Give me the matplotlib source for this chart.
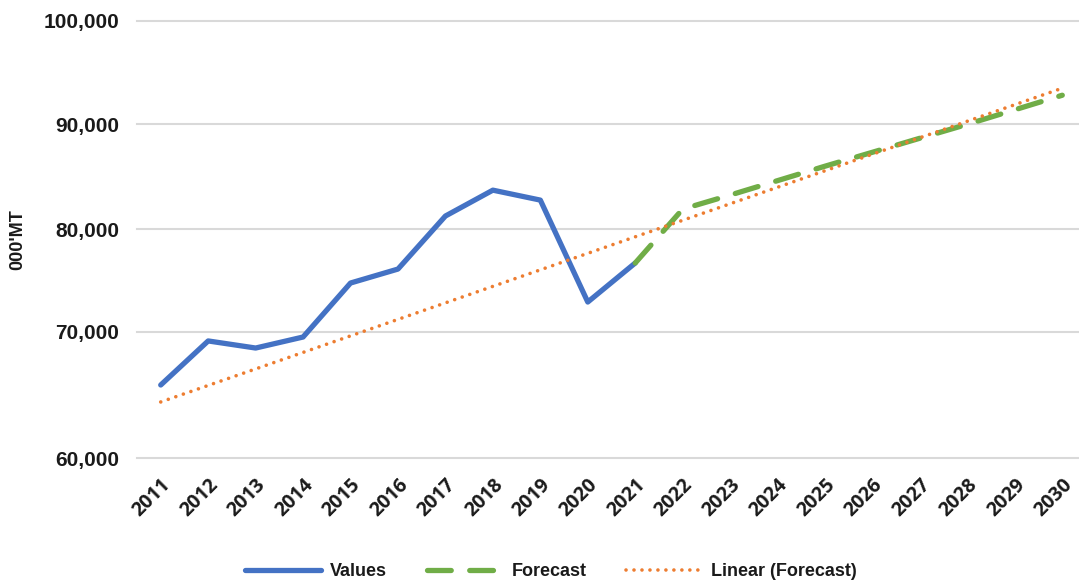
import numpy as np
import matplotlib.pyplot as plt
from matplotlib.ticker import FuncFormatter

plt.rcParams["font.family"] = ["Liberation Sans", "DejaVu Sans"]
plt.rcParams["font.weight"] = "bold"

blue = "#4472C4"
green = "#70AD47"
orange = "#ED7D31"

years = list(range(2011, 2031))
value_years = list(range(2011, 2022))
values = [65790, 69270, 68710, 69580, 74740, 76100, 81240, 83710, 82760, 72890, 76690]
forecast_years = list(range(2021, 2031))
forecast = [76690, 81900, 83240, 84620, 86000, 87330, 88670, 90000, 91400, 92800]
trend_years = [2011, 2030]
trend = [64450, 93480]

yticks = [60000, 70000, 80000, 90000, 100000]
# the source axis is not evenly spaced: keep its tick spacing (pixels)
ypos = [0, 126.6, 229.3, 334.0, 437.8]
scale_v = [50000] + yticks + [110000]
scale_p = [-126.6] + ypos + [541.6]


def fwd(v):
    return np.interp(v, scale_v, scale_p)


def inv(p):
    return np.interp(p, scale_p, scale_v)


fig = plt.figure(figsize=(10.79, 5.8), dpi=100)
ax = fig.add_axes([137 / 1079, 1 - 458.3 / 580, 949 / 1079, 437.8 / 580])
ax.set_yscale("function", functions=(fwd, inv))

ax.plot(value_years, values, color=blue, lw=3.8, solid_capstyle="round",
        solid_joinstyle="round", label="Values", zorder=3)
ax.plot(forecast_years, forecast, color=green, lw=3.8, dashes=(4.5, 3.5),
        dash_capstyle="round", label="Forecast", zorder=4)
ax.plot(trend_years, trend, color=orange, lw=2.6, dashes=(0.01, 2.2),
        dash_capstyle="round", label="Linear (Forecast)", zorder=5)

ax.set_xlim(2010.5, 2030.5)
ax.set_ylim(60000, 100000)
ax.set_yticks(yticks)
ax.yaxis.set_major_formatter(FuncFormatter(lambda v, p: f"{v:,.0f}"))
ax.set_xticks(years)
ax.set_xticklabels([str(y) for y in years], rotation=45, ha="right",
                   va="top", rotation_mode="anchor",
                   family=["Open Sans", "DejaVu Sans"], fontsize=14)
ax.tick_params(axis="both", length=0, colors="#1a1a1a")
ax.tick_params(axis="y", labelsize=15, pad=13)
ax.tick_params(axis="x", pad=12)
ax.grid(axis="y", color="#d9d9d9", lw=1.5, clip_on=False)
ax.set_axisbelow(True)
for s in ax.spines.values():
    s.set_visible(False)

fig.text(18 / 1079, 1 - 240 / 580, "000'MT", rotation=90, ha="center",
         va="center", fontsize=13, color="#1a1a1a")

leg = fig.legend(loc="lower center", bbox_to_anchor=(551 / 1079, -0.028), ncol=3,
                 frameon=False, fontsize=13, handlelength=4.2, columnspacing=2.2,
                 handletextpad=0.5)
for t in leg.get_texts():
    t.set_color("#1a1a1a")

fig.savefig("out.png", dpi=100)
